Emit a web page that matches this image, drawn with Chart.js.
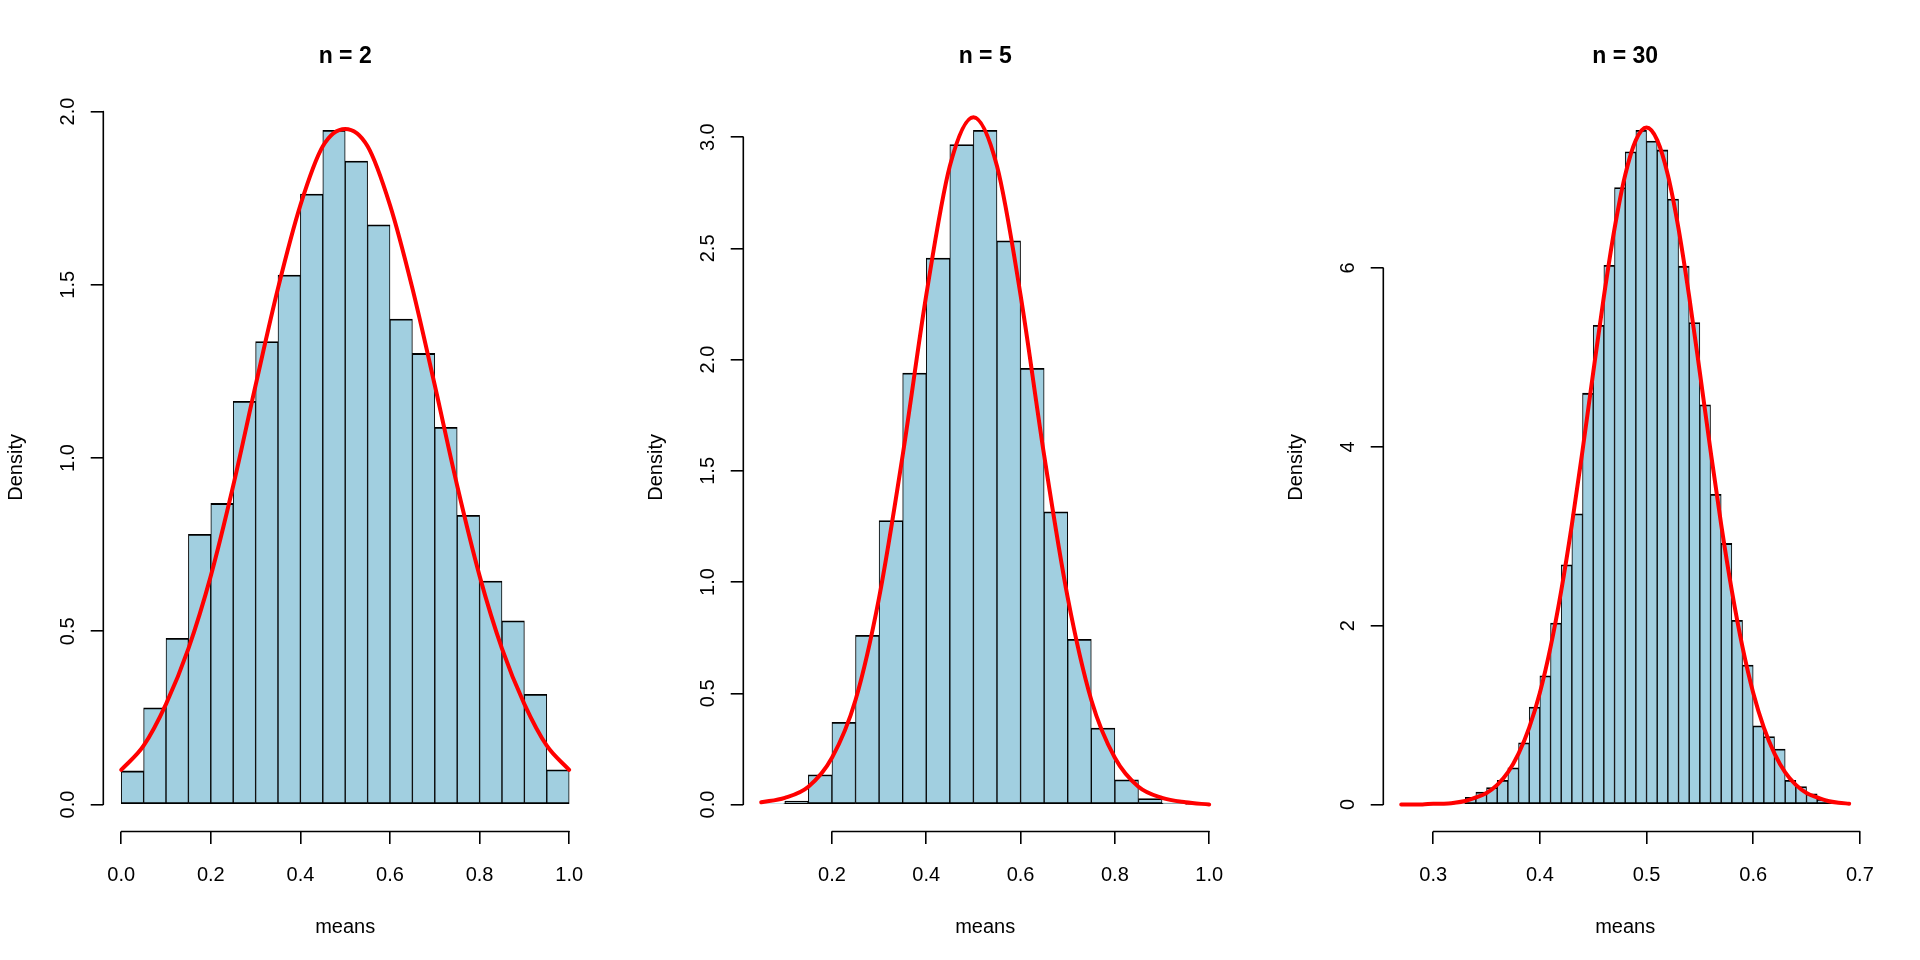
<!DOCTYPE html>
<html>
<head>
<meta charset="utf-8">
<title>Sample means: n = 2, 5, 30</title>
<script src="https://cdn.jsdelivr.net/npm/chart.js@4.4.1/dist/chart.umd.min.js"></script>
<style>
  html, body { margin: 0; padding: 0; background: #fff; }
  #wrap { position: relative; width: 1920px; height: 960px; }
  canvas { position: absolute; top: 0; }
</style>
</head>
<body>
<div id="wrap">
  <canvas id="n2" width="640" height="960" style="left:0px"></canvas>
  <canvas id="n5" width="640" height="960" style="left:640px"></canvas>
  <canvas id="n30" width="640" height="960" style="left:1280px"></canvas>
</div>
<script>
// n = 2, bins of 0.05 from 0 to 1
const n2Mids = [0.025, 0.075, 0.125, 0.175, 0.225, 0.275, 0.325, 0.375, 0.425, 0.475,
                0.525, 0.575, 0.625, 0.675, 0.725, 0.775, 0.825, 0.875, 0.925, 0.975];
const n2Density = [0.097, 0.279, 0.480, 0.780, 0.869, 1.164, 1.336, 1.528, 1.762, 1.946,
                   1.857, 1.673, 1.401, 1.302, 1.089, 0.835, 0.645, 0.530, 0.318, 0.100];
const n2CurveX = [0, 0.05, 0.1, 0.15, 0.2, 0.25, 0.3, 0.35, 0.4, 0.45, 0.5,
                  0.55, 0.6, 0.65, 0.7, 0.75, 0.8, 0.85, 0.9, 0.95, 1.0];
const n2CurveY = [0.10, 0.17, 0.29, 0.45, 0.66, 0.92, 1.21, 1.49, 1.73, 1.90, 1.95,
                  1.90, 1.73, 1.49, 1.21, 0.92, 0.66, 0.45, 0.29, 0.17, 0.10];
const n2XTicks = [0, 0.2, 0.4, 0.6, 0.8, 1.0];
const n2YTicks = [0, 0.5, 1.0, 1.5, 2.0];

// n = 5, bins of 0.05 from 0.05 to 1
const n5Mids = [0.075, 0.125, 0.175, 0.225, 0.275, 0.325, 0.375, 0.425, 0.475, 0.525,
                0.575, 0.625, 0.675, 0.725, 0.775, 0.825, 0.875, 0.925, 0.975];
const n5Density = [0.004, 0.015, 0.134, 0.370, 0.761, 1.277, 1.940, 2.457, 2.967, 3.031,
                   2.534, 1.961, 1.316, 0.743, 0.344, 0.111, 0.027, 0.006, 0.001];
const n5CurveX = [0.05, 0.1, 0.15, 0.2, 0.25, 0.3, 0.35, 0.4, 0.45, 0.5,
                  0.55, 0.6, 0.65, 0.7, 0.75, 0.8, 0.85, 0.9, 0.95, 1.0];
const n5CurveY = [0.01, 0.03, 0.08, 0.21, 0.47, 0.93, 1.57, 2.29, 2.87, 3.09,
                  2.87, 2.29, 1.57, 0.93, 0.47, 0.21, 0.08, 0.03, 0.01, 0.00];
const n5XTicks = [0.2, 0.4, 0.6, 0.8, 1.0];
const n5YTicks = [0, 0.5, 1.0, 1.5, 2.0, 2.5, 3.0];

// n = 30, bins of 0.01 from 0.27 to 0.69
const n30Mids = [0.275, 0.285, 0.295, 0.305, 0.315, 0.325, 0.335, 0.345, 0.355, 0.365,
                 0.375, 0.385, 0.395, 0.405, 0.415, 0.425, 0.435, 0.445, 0.455, 0.465,
                 0.475, 0.485, 0.495, 0.505, 0.515, 0.525, 0.535, 0.545, 0.555, 0.565,
                 0.575, 0.585, 0.595, 0.605, 0.615, 0.625, 0.635, 0.645, 0.655, 0.665,
                 0.675, 0.685];
const n30Density = [0, 0, 0, 0, 0.003, 0.01, 0.08, 0.14, 0.19, 0.27,
                    0.41, 0.69, 1.09, 1.44, 2.03, 2.68, 3.25, 4.60, 5.36, 6.03,
                    6.90, 7.30, 7.54, 7.42, 7.32, 6.77, 6.02, 5.39, 4.47, 3.47,
                    2.92, 2.06, 1.56, 0.88, 0.76, 0.62, 0.27, 0.20, 0.12, 0.06,
                    0.03, 0.015];
const n30CurveX = [0.27, 0.28, 0.29, 0.30, 0.31, 0.32, 0.33, 0.34, 0.35, 0.36, 0.37,
                   0.38, 0.39, 0.40, 0.41, 0.42, 0.43, 0.44, 0.45, 0.46, 0.47, 0.48,
                   0.49, 0.50, 0.51, 0.52, 0.53, 0.54, 0.55, 0.56, 0.57, 0.58, 0.59,
                   0.60, 0.61, 0.62, 0.63, 0.64, 0.65, 0.66, 0.67, 0.68, 0.69];
const n30CurveY = [0.00, 0.00, 0.00, 0.01, 0.01, 0.02, 0.04, 0.08, 0.13, 0.22, 0.36,
                   0.57, 0.86, 1.25, 1.76, 2.39, 3.13, 3.96, 4.83, 5.68, 6.44, 7.04,
                   7.43, 7.57, 7.43, 7.04, 6.44, 5.68, 4.83, 3.96, 3.13, 2.39, 1.76,
                   1.25, 0.86, 0.57, 0.36, 0.22, 0.13, 0.08, 0.04, 0.02, 0.01];
const n30XTicks = [0.3, 0.4, 0.5, 0.6, 0.7];
const n30YTicks = [0, 2, 4, 6];

Chart.defaults.font.family = '"Liberation Sans", Arial, Helvetica, sans-serif';
Chart.defaults.font.size = 20;
Chart.defaults.color = '#000';

// margins of the plot region inside each 640x960 panel (R mar = 5.1, 4.1, 4.1, 2.1)
const MARGIN = { left: 103.3, right: 52.9, top: 103.3, bottom: 128.5 };
const TICK_LEN = 12.6;
const AXIS_LW = 1.6;

// R draws the axis line only from the first tick to the last one
const rAxisLines = {
  id: 'rAxisLines',
  afterDraw(chart) {
    const { ctx, chartArea, scales } = chart;
    const xt = scales.x.ticks, yt = scales.y.ticks;
    ctx.save();
    ctx.strokeStyle = '#000';
    ctx.lineWidth = AXIS_LW;
    ctx.lineCap = 'round';
    ctx.beginPath();
    ctx.moveTo(scales.x.getPixelForValue(xt[0].value), chartArea.bottom);
    ctx.lineTo(scales.x.getPixelForValue(xt[xt.length - 1].value), chartArea.bottom);
    ctx.moveTo(chartArea.left, scales.y.getPixelForValue(yt[0].value));
    ctx.lineTo(chartArea.left, scales.y.getPixelForValue(yt[yt.length - 1].value));
    ctx.stroke();
    ctx.restore();
  }
};

function drawPanel(id, p) {
  const lo = p.mids[0] - p.binWidth / 2;
  const hi = p.mids[p.mids.length - 1] + p.binWidth / 2;
  const xPad = 0.04 * (hi - lo);
  const yTop = Math.max(...p.density);

  const tickGrid = {
    display: true,
    offset: false,
    drawOnChartArea: false,
    drawTicks: true,
    tickLength: TICK_LEN,
    color: '#000',
    lineWidth: AXIS_LW
  };

  new Chart(document.getElementById(id), {
    type: 'bar',
    data: {
      datasets: [
        {
          type: 'line',
          data: p.curveX.map((x, i) => ({ x: x, y: p.curveY[i] })),
          borderColor: '#ff0000',
          borderWidth: 4,
          borderCapStyle: 'round',
          pointRadius: 0,
          cubicInterpolationMode: 'monotone',
          order: 0
        },
        {
          type: 'bar',
          data: p.mids.map((x, i) => ({ x: x, y: p.density[i] })),
          backgroundColor: '#a1cfe0',
          borderColor: '#000',
          borderWidth: { top: 1.8, bottom: 1.8, left: 1.0, right: 1.0 },
          borderSkipped: false,
          barPercentage: 1,
          categoryPercentage: 1,
          order: 1
        }
      ]
    },
    options: {
      responsive: false,
      animation: false,
      devicePixelRatio: 1,
      layout: { padding: { left: 0, right: MARGIN.right, top: 0, bottom: 0 } },
      plugins: {
        legend: { display: false },
        tooltip: { enabled: false },
        title: {
          display: true,
          text: p.title,
          fullSize: false,
          font: { size: 23, weight: 'bold' },
          padding: { top: 43, bottom: 32.7 }
        }
      },
      scales: {
        x: {
          type: 'linear',
          min: lo - xPad,
          max: hi + xPad,
          offset: false,
          afterBuildTicks: s => { s.ticks = p.xTicks.map(v => ({ value: v })); },
          afterFit: s => { s.height = MARGIN.bottom; },
          border: { display: false },
          grid: tickGrid,
          ticks: {
            autoSkip: false,
            maxRotation: 0,
            padding: 19,
            callback: v => v.toFixed(1)
          },
          title: { display: true, text: 'means', padding: { top: 0, bottom: 21 } }
        },
        y: {
          type: 'linear',
          min: -0.04 * yTop,
          max: 1.04 * yTop,
          afterBuildTicks: s => { s.ticks = p.yTicks.map(v => ({ value: v })); },
          afterFit: s => { s.width = MARGIN.left; },
          border: { display: false },
          grid: tickGrid,
          ticks: {
            autoSkip: false,
            minRotation: 90,
            maxRotation: 90,
            crossAlign: 'center',
            padding: p.yPad,
            callback: v => v.toFixed(p.yDigits)
          },
          title: { display: true, text: 'Density', padding: { top: 4, bottom: 0 } }
        }
      }
    },
    plugins: [rAxisLines]
  });
}

drawPanel('n2', {
  title: 'n = 2', binWidth: 0.05, mids: n2Mids, density: n2Density,
  curveX: n2CurveX, curveY: n2CurveY, xTicks: n2XTicks, yTicks: n2YTicks,
  yDigits: 1, yPad: 8
});
drawPanel('n5', {
  title: 'n = 5', binWidth: 0.05, mids: n5Mids, density: n5Density,
  curveX: n5CurveX, curveY: n5CurveY, xTicks: n5XTicks, yTicks: n5YTicks,
  yDigits: 1, yPad: 8
});
drawPanel('n30', {
  title: 'n = 30', binWidth: 0.01, mids: n30Mids, density: n30Density,
  curveX: n30CurveX, curveY: n30CurveY, xTicks: n30XTicks, yTicks: n30YTicks,
  yDigits: 0, yPad: 16.3
});
</script>
</body>
</html>
